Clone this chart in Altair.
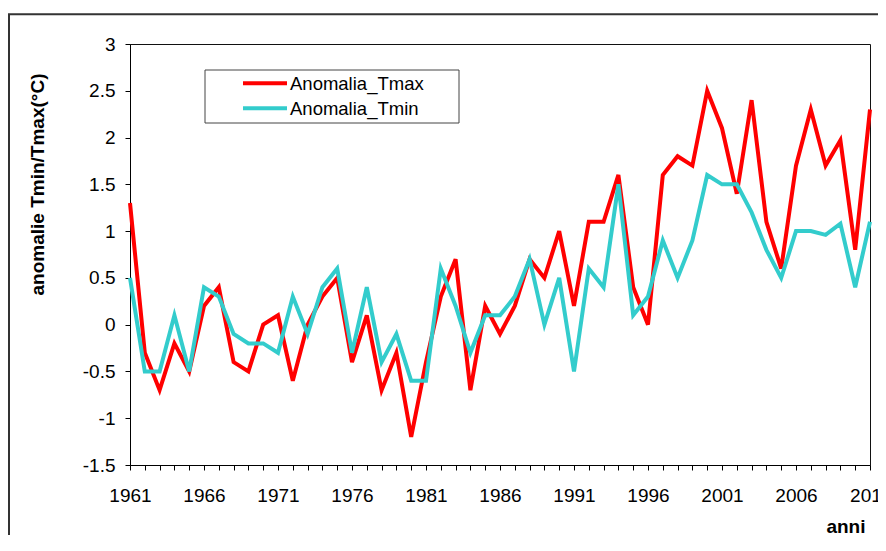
import altair as alt
import pandas as pd

years = list(range(1961, 2012))
tmax = [1.3, -0.3, -0.7, -0.2, -0.5, 0.2, 0.4, -0.4, -0.5, 0.0,
        0.1, -0.6, 0.0, 0.3, 0.5, -0.4, 0.1, -0.7, -0.3, -1.2,
        -0.4, 0.3, 0.7, -0.7, 0.2, -0.1, 0.2, 0.7, 0.5, 1.0,
        0.2, 1.1, 1.1, 1.6, 0.4, 0.0, 1.6, 1.8, 1.7, 2.5,
        2.1, 1.4, 2.4, 1.1, 0.6, 1.7, 2.3, 1.7, 1.97, 0.8, 2.3]
tmin = [0.5, -0.5, -0.5, 0.1, -0.5, 0.4, 0.3, -0.1, -0.2, -0.2,
        -0.3, 0.3, -0.1, 0.4, 0.6, -0.3, 0.4, -0.4, -0.1, -0.6,
        -0.6, 0.6, 0.2, -0.3, 0.1, 0.1, 0.3, 0.7, 0.0, 0.5,
        -0.5, 0.6, 0.4, 1.5, 0.1, 0.3, 0.9, 0.5, 0.9, 1.6,
        1.5, 1.5, 1.2, 0.8, 0.5, 1.0, 1.0, 0.96, 1.08, 0.4, 1.1]
series_names = ["Anomalia_Tmax", "Anomalia_Tmin"]
series_colors = ["#FF0000", "#33CCCC"]
y_ticks = [-1.5, -1, -0.5, 0, 0.5, 1, 1.5, 2, 2.5, 3]

FONT = "Liberation Sans"

df = pd.DataFrame({
    "anno": years * 2,
    "valore": tmax + tmin,
    "serie": [series_names[0]] * len(years) + [series_names[1]] * len(years),
})

x_enc = alt.X(
    "anno:Q",
    scale=alt.Scale(domain=[1961, 2011], nice=False, zero=False),
    axis=alt.Axis(
        values=years, format="d",
        labelExpr="(datum.value - 1961) % 5 == 0 ? datum.label : ''",
        labelOverlap=False, labelFlush=False, labelBound=False,
        grid=False, tickSize=5, labelPadding=16, labelFontSize=19,
        labelBaseline="top",
        title="anni", titleX=735, titleY=67, titleAlign="right",
        titleBaseline="alphabetic", titleFontSize=19, titleFontWeight="bold",
    ),
)
y_enc = alt.Y(
    "valore:Q",
    scale=alt.Scale(domain=[-1.5, 3], nice=False, zero=False),
    axis=alt.Axis(
        values=y_ticks, labelExpr="toString(datum.value)",
        grid=False, tickSize=5, labelPadding=10, labelFontSize=19,
        title="anomalie Tmin/Tmax(°C)", titleX=-92.5, titleY=140,
        titleAngle=270, titleAlign="center", titleBaseline="middle",
        titleFontSize=19, titleFontWeight="bold",
    ),
)

color_scale = alt.Scale(domain=series_names, range=series_colors)

line_max = alt.Chart(df).transform_filter(
    alt.datum.serie == series_names[0]
).mark_line(strokeWidth=4, strokeJoin="miter").encode(
    x=x_enc, y=y_enc,
    color=alt.Color("serie:N", scale=color_scale, legend=None),
)
line_min = alt.Chart(df).transform_filter(
    alt.datum.serie == series_names[1]
).mark_line(strokeWidth=4, strokeJoin="miter").encode(
    x=x_enc, y=y_enc,
    color=alt.Color("serie:N", scale=color_scale, legend=None),
)

one = pd.DataFrame({"k": [0]})

# outer chart frame
frame = alt.Chart(one).mark_rect(fillOpacity=0, stroke="#333333", strokeWidth=2).encode(
    x=alt.value(-121), x2=alt.value(2000), y=alt.value(-29.7), y2=alt.value(2000)
)

# legend (manual, Excel style)
leg_box = alt.Chart(one).mark_rect(fill="white", stroke="#444444", strokeWidth=1).encode(
    x=alt.value(75), x2=alt.value(329), y=alt.value(26), y2=alt.value(79)
)
leg_layers = []
for i, (nm, col) in enumerate(zip(series_names, series_colors)):
    yy = 39.3 + 25 * i
    leg_layers.append(
        alt.Chart(one).mark_rule(stroke=col, strokeWidth=4).encode(
            x=alt.value(113), x2=alt.value(157), y=alt.value(yy)
        )
    )
    leg_layers.append(
        alt.Chart(pd.DataFrame({"name": [nm]})).mark_text(
            align="left", baseline="middle", fontSize=18.5, font=FONT, color="black"
        ).encode(x=alt.value(160), y=alt.value(yy + 0.5), text="name:N")
    )

chart = alt.layer(frame, line_max, line_min, leg_box, *leg_layers).properties(
    width=740, height=421,
    autosize=alt.AutoSizeParams(type="none"),
    padding={"left": 122, "top": 36, "right": 8, "bottom": 70},
    background="white",
).configure_view(
    stroke="#111111", strokeWidth=1
).configure_axis(
    labelFont=FONT, titleFont=FONT, labelColor="black", titleColor="black",
    domainColor="black", tickColor="black", domainWidth=1, tickWidth=1,
)

chart.save("out.html", embed_options={"renderer": "svg", "actions": False})
